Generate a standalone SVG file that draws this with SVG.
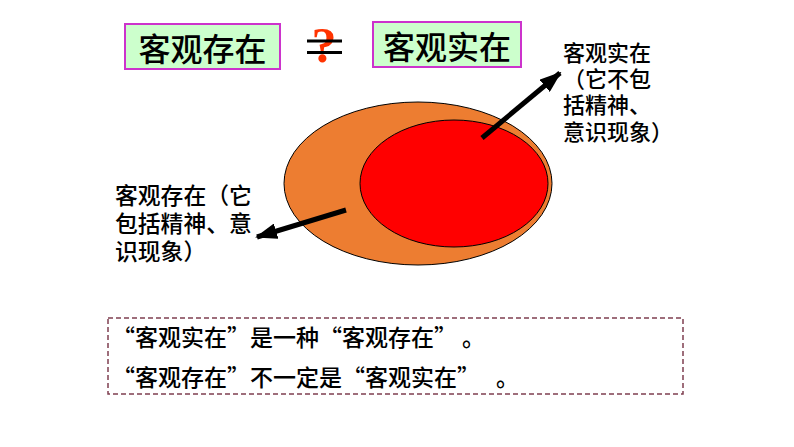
<svg xmlns="http://www.w3.org/2000/svg" width="794" height="447" viewBox="0 0 794 447">
<style>
.cjk{font-family:"Noto Sans CJK SC","Noto Sans",sans-serif;fill:#000;font-weight:500}
.box{fill:#ccffcc;stroke:#cc33cc;stroke-width:2}
.title{font-size:32px;text-anchor:middle}
.lbl{font-size:22px}
.note{font-size:23px}
.conn{stroke:#000;stroke-width:5;fill:none;marker-end:url(#ah)}
</style>
<defs>
<marker id="ah" markerUnits="userSpaceOnUse" markerWidth="22" markerHeight="16" refX="20" refY="8" orient="auto">
<path d="M0,0 L22,8 L0,16 Z" fill="#000"/>
</marker>
</defs>
<rect width="794" height="447" fill="#fff"/>
<g id="box-cunzai">
<rect class="box" x="125" y="24" width="155" height="45"/>
<text class="cjk title" x="202.5" y="61">客观存在</text>
</g>
<g id="neq">
<text x="324" y="62" font-family="Liberation Serif,serif" font-weight="bold" font-size="50" fill="#ff3300" text-anchor="middle">?</text>
<line x1="307" y1="41" x2="342" y2="41" stroke="#000" stroke-width="3"/>
<line x1="307" y1="52.5" x2="342" y2="52.5" stroke="#000" stroke-width="3"/>
</g>
<g id="box-shizai">
<rect class="box" x="373" y="22" width="148" height="45"/>
<text class="cjk title" x="447" y="59">客观实在</text>
</g>
<g id="outer-ellipse">
<ellipse cx="418" cy="183.5" rx="134" ry="81.5" fill="#ed7d31" stroke="#000" stroke-width="1"/>
</g>
<g id="inner-ellipse">
<ellipse cx="454" cy="183.5" rx="94" ry="63.5" fill="#ff0000" stroke="#000" stroke-width="1"/>
</g>
<g id="connectors">
<line class="conn" x1="482" y1="138" x2="560" y2="73"/>
<line class="conn" x1="346" y1="210" x2="257" y2="237"/>
</g>
<g id="label-shizai">
<text class="cjk lbl" x="563" y="60.5">客观实在</text>
<text class="cjk lbl" x="563" y="86.5">（它不包</text>
<text class="cjk lbl" x="563" y="113">括精神、</text>
<text class="cjk lbl" x="563" y="140">意识现象）</text>
</g>
<g id="label-cunzai">
<text class="cjk lbl" x="115" y="203.5" style="font-size:22.8px">客观存在（它</text>
<text class="cjk lbl" x="115" y="231.5" style="font-size:22.8px">包括精神、意</text>
<text class="cjk lbl" x="115" y="260" style="font-size:22.8px">识现象）</text>
</g>
<g id="note">
<rect x="108" y="318" width="575" height="76" fill="none" stroke="#7f3f50" stroke-width="1.5" stroke-dasharray="5,3"/>
<text class="cjk note" x="112" y="345.5">“客观实在”是一种“客观存在”</text>
<text class="cjk note" x="462" y="345.5">。</text>
<text class="cjk note" x="112" y="386">“客观存在”不一定是“客观实在”</text>
<text class="cjk note" x="496" y="386">。</text>
</g>
</svg>
